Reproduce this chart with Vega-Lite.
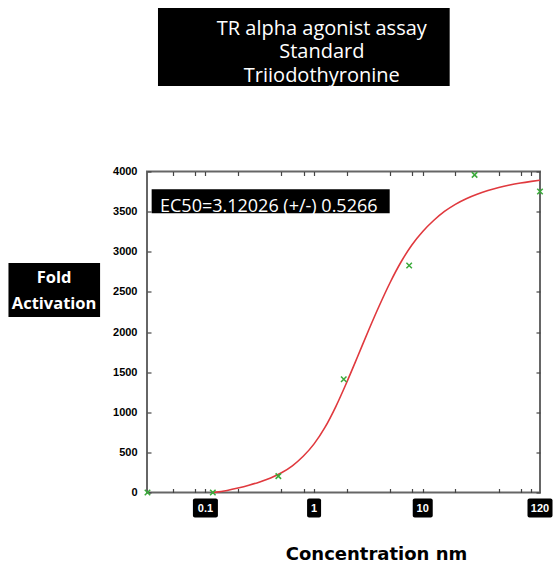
{
  "$schema": "https://vega.github.io/schema/vega-lite/v6.json",
  "width": 393,
  "height": 321,
  "autosize": "none",
  "padding": {"left": 147, "top": 171.5, "right": 13, "bottom": 69.5},
  "background": "white",
  "config": {
    "view": {"stroke": "#666666", "strokeWidth": 2},
    "axis": {"grid": false, "domain": false, "tickColor": "#444444", "tickWidth": 1.2}
  },
  "datasets": {
    "curve": [
      {"conc": 0.1148, "resp": 0}, {"conc": 0.1259, "resp": 5}, {"conc": 0.1585, "resp": 26},
      {"conc": 0.1995, "resp": 55}, {"conc": 0.2512, "resp": 90}, {"conc": 0.3162, "resp": 132},
      {"conc": 0.3981, "resp": 182}, {"conc": 0.5012, "resp": 246}, {"conc": 0.631, "resp": 333},
      {"conc": 0.7943, "resp": 451}, {"conc": 1.0, "resp": 606}, {"conc": 1.259, "resp": 811},
      {"conc": 1.585, "resp": 1071}, {"conc": 1.995, "resp": 1371}, {"conc": 2.512, "resp": 1691},
      {"conc": 3.162, "resp": 2016}, {"conc": 3.981, "resp": 2327}, {"conc": 5.012, "resp": 2617},
      {"conc": 6.31, "resp": 2872}, {"conc": 7.943, "resp": 3084}, {"conc": 10, "resp": 3252},
      {"conc": 12.59, "resp": 3389}, {"conc": 15.85, "resp": 3502}, {"conc": 19.95, "resp": 3591},
      {"conc": 25.12, "resp": 3661}, {"conc": 31.62, "resp": 3717}, {"conc": 39.81, "resp": 3762},
      {"conc": 50.12, "resp": 3800}, {"conc": 63.1, "resp": 3831}, {"conc": 79.43, "resp": 3856},
      {"conc": 100, "resp": 3877}, {"conc": 120, "resp": 3892}
    ],
    "points": [
      {"conc": 0.0293, "resp": 0}, {"conc": 0.117, "resp": 0}, {"conc": 0.469, "resp": 204},
      {"conc": 1.875, "resp": 1412}, {"conc": 7.5, "resp": 2828}, {"conc": 30, "resp": 3958},
      {"conc": 120, "resp": 3751}
    ],
    "xlabels": [
      {"label": "0.1", "v": 0.1}, {"label": "1", "v": 1}, {"label": "10", "v": 10}, {"label": "120", "v": 120}
    ]
  },
  "layer": [
    {
      "data": {"name": "curve"},
      "mark": {"type": "line", "color": "#e0393e", "strokeWidth": 1.6, "interpolate": "monotone"},
      "encoding": {
        "x": {
          "field": "conc", "type": "quantitative",
          "scale": {"type": "log", "domain": [0.029, 120], "nice": false},
          "axis": {
            "orient": "bottom",
            "values": [0.05, 0.08, 0.1, 0.2, 0.5, 0.8, 1, 2, 5, 8, 10, 20, 50, 80, 100],
            "labels": false, "tickSize": -4,
            "title": "Concentration nm", "titleFont": "DejaVu Sans", "titleFontSize": 18,
            "titleFontWeight": "bold", "titleColor": "black", "titleX": 229, "titleY": 52.5,
            "titleBaseline": "top", "titleAlign": "center"
          }
        },
        "y": {
          "field": "resp", "type": "quantitative",
          "scale": {"domain": [0, 4000], "nice": false},
          "axis": {
            "orient": "left", "format": "d",
            "values": [0, 500, 1000, 1500, 2000, 2500, 3000, 3500, 4000],
            "tickSize": -4, "labelPadding": 14, "labelFont": "Liberation Sans", "labelFontSize": 11,
            "labelFontWeight": "bold", "labelColor": "black", "labelFlush": false, "labelOverlap": false,
            "title": null
          }
        }
      }
    },
    {
      "data": {"name": "points"},
      "mark": {"type": "point", "shape": "M-1,-1L1,1M-1,1L1,-1", "filled": false, "size": 30, "strokeWidth": 1.5, "color": "#3aaa3a", "opacity": 1, "clip": false},
      "encoding": {
        "x": {
          "field": "conc", "type": "quantitative",
          "scale": {"type": "log", "domain": [0.029, 120], "nice": false},
          "axis": {
            "orient": "top",
            "values": [0.05, 0.08, 0.1, 0.2, 0.5, 0.8, 1, 2, 5, 8, 10, 20, 50, 80, 100],
            "labels": false, "tickSize": -4, "title": null
          }
        },
        "y": {
          "field": "resp", "type": "quantitative",
          "scale": {"domain": [0, 4000], "nice": false},
          "axis": {
            "orient": "right",
            "values": [0, 500, 1000, 1500, 2000, 2500, 3000, 3500, 4000],
            "labels": false, "tickSize": -4, "title": null
          }
        }
      }
    },
    {
      "data": {"name": "xlabels"},
      "transform": [{"filter": "datum.label == '0.1' || datum.label == '120'"}],
      "mark": {"type": "rect", "width": 25, "height": 19, "yOffset": 15.5, "color": "black", "cornerRadius": 2},
      "encoding": {
        "x": {"field": "v", "type": "quantitative", "scale": {"type": "log", "domain": [0.029, 120], "nice": false}, "axis": null},
        "y": {"datum": 0, "type": "quantitative", "scale": {"domain": [0, 4000], "nice": false}, "axis": null}
      }
    },
    {
      "data": {"name": "xlabels"},
      "transform": [{"filter": "datum.label == '1'"}],
      "mark": {"type": "rect", "width": 14, "height": 19, "yOffset": 15.5, "color": "black", "cornerRadius": 2},
      "encoding": {
        "x": {"field": "v", "type": "quantitative", "scale": {"type": "log", "domain": [0.029, 120], "nice": false}, "axis": null},
        "y": {"datum": 0, "type": "quantitative", "scale": {"domain": [0, 4000], "nice": false}, "axis": null}
      }
    },
    {
      "data": {"name": "xlabels"},
      "transform": [{"filter": "datum.label == '10'"}],
      "mark": {"type": "rect", "width": 20, "height": 19, "yOffset": 15.5, "color": "black", "cornerRadius": 2},
      "encoding": {
        "x": {"field": "v", "type": "quantitative", "scale": {"type": "log", "domain": [0.029, 120], "nice": false}, "axis": null},
        "y": {"datum": 0, "type": "quantitative", "scale": {"domain": [0, 4000], "nice": false}, "axis": null}
      }
    },
    {
      "data": {"name": "xlabels"},
      "mark": {"type": "text", "color": "white", "font": "Liberation Sans", "fontSize": 11, "fontWeight": "bold", "align": "center", "baseline": "middle", "dy": 16},
      "encoding": {
        "x": {"field": "v", "type": "quantitative", "scale": {"type": "log", "domain": [0.029, 120], "nice": false}, "axis": null},
        "y": {"datum": 0, "type": "quantitative", "scale": {"domain": [0, 4000], "nice": false}, "axis": null},
        "text": {"field": "label"}
      }
    },
    {
      "data": {"values": [{}]},
      "mark": {"type": "rect", "color": "black", "clip": false},
      "encoding": {
        "x": {"datum": 0.0366, "type": "quantitative", "scale": {"type": "log", "domain": [0.029, 120], "nice": false}, "axis": null},
        "x2": {"datum": 17.7},
        "y": {"datum": 6037, "type": "quantitative", "scale": {"domain": [0, 4000], "nice": false}, "axis": null},
        "y2": {"datum": 5065}
      }
    },
    {
      "data": {"values": [{}]},
      "mark": {"type": "text", "text": ["TR alpha agonist assay", "Standard", "Triiodothyronine"], "font": "Open Sans", "fontSize": 20, "color": "white", "align": "center", "baseline": "alphabetic", "lineHeight": 23.3},
      "encoding": {
        "x": {"datum": 1.178, "type": "quantitative", "scale": {"type": "log", "domain": [0.029, 120], "nice": false}, "axis": null},
        "y": {"datum": 5701, "type": "quantitative", "scale": {"domain": [0, 4000], "nice": false}, "axis": null}
      }
    },
    {
      "data": {"values": [{}]},
      "mark": {"type": "rect", "color": "black", "clip": false},
      "encoding": {
        "x": {"datum": 0.00154, "type": "quantitative", "scale": {"type": "log", "domain": [0.029, 120], "nice": false}, "axis": null},
        "x2": {"datum": 0.01073},
        "y": {"datum": 2860, "type": "quantitative", "scale": {"domain": [0, 4000], "nice": false}, "axis": null},
        "y2": {"datum": 2187}
      }
    },
    {
      "data": {"values": [{}]},
      "mark": {"type": "text", "text": ["Fold", "Activation"], "font": "Open Sans", "fontSize": 16.5, "fontWeight": "bold", "color": "white", "align": "center", "baseline": "alphabetic", "lineHeight": 26},
      "encoding": {
        "x": {"datum": 0.00405, "type": "quantitative", "scale": {"type": "log", "domain": [0.029, 120], "nice": false}, "axis": null},
        "y": {"datum": 2607, "type": "quantitative", "scale": {"domain": [0, 4000], "nice": false}, "axis": null}
      }
    },
    {
      "data": {"values": [{}]},
      "mark": {"type": "rect", "color": "black"},
      "encoding": {
        "x": {"datum": 0.032, "type": "quantitative", "scale": {"type": "log", "domain": [0.029, 120], "nice": false}, "axis": null},
        "x2": {"datum": 4.965},
        "y": {"datum": 3778, "type": "quantitative", "scale": {"domain": [0, 4000], "nice": false}, "axis": null},
        "y2": {"datum": 3479}
      }
    },
    {
      "data": {"values": [{}]},
      "mark": {"type": "text", "text": "EC50=3.12026 (+/-) 0.5266", "font": "Open Sans", "fontSize": 18, "color": "white", "align": "left", "baseline": "alphabetic"},
      "encoding": {
        "x": {"datum": 0.0382, "type": "quantitative", "scale": {"type": "log", "domain": [0.029, 120], "nice": false}, "axis": null},
        "y": {"datum": 3499, "type": "quantitative", "scale": {"domain": [0, 4000], "nice": false}, "axis": null}
      }
    }
  ],
  "resolve": {"axis": {"x": "independent", "y": "independent"}}
}
